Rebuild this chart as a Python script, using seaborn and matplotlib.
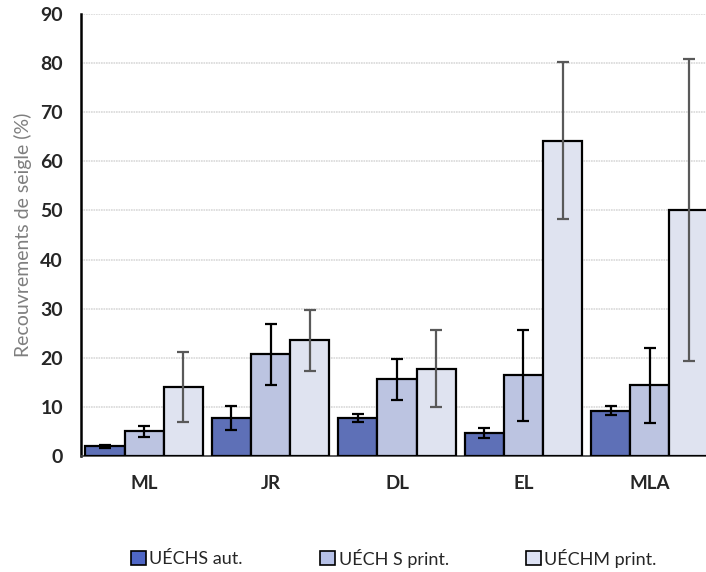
import matplotlib
matplotlib.use("Agg")
import matplotlib.pyplot as plt
from matplotlib.patches import Patch
import seaborn as sns
import pandas as pd

sites = ["ML", "JR", "DL", "EL", "MLA"]
series = ["UÉCHS aut.", "UÉCH S print.", "UÉCHM print."]
values_aut = [2.0, 7.7, 7.7, 4.6, 9.2]
values_s = [5.0, 20.7, 15.6, 16.4, 14.4]
values_m = [14.0, 23.6, 17.8, 64.2, 50.1]
err_aut = [0.3, 2.4, 0.8, 1.0, 0.9]
err_s = [1.2, 6.2, 4.2, 9.3, 7.6]
err_m = [7.1, 6.2, 7.9, 16.0, 30.7]
yticks = [0, 10, 20, 30, 40, 50, 60, 70, 80, 90]

colors = ["#4F67C6", "#B6C1E7", "#DCE1F3"]
err_colors = ["#000000", "#000000", "#595959"]

sns.set_theme(style="white")
plt.rcParams["font.family"] = ["Lato", "DejaVu Sans"]

df = pd.DataFrame({
    "site": sites * 3,
    "series": [series[0]] * 5 + [series[1]] * 5 + [series[2]] * 5,
    "value": values_aut + values_s + values_m,
})
errs = {series[0]: err_aut, series[1]: err_s, series[2]: err_m}
vals = {series[0]: values_aut, series[1]: values_s, series[2]: values_m}

fig = plt.figure(figsize=(7.06, 5.72), dpi=100)
ax = fig.add_axes([81 / 706, 1 - 456 / 572, 632 / 706, 442 / 572])

sns.barplot(data=df, x="site", y="value", hue="series", order=sites,
            hue_order=series, palette=colors, width=0.93, gap=0,
            errorbar=None, edgecolor="black", linewidth=1.6, ax=ax,
            legend=False, zorder=3)

# error bars at bar centres, taken from the drawn patches
for k, s in enumerate(series):
    cont = ax.containers[k]
    xs = [p.get_x() + p.get_width() / 2 for p in cont.patches]
    ax.errorbar(xs, vals[s], yerr=errs[s], fmt="none", ecolor=err_colors[k],
                elinewidth=1.6, capsize=4, capthick=1.6, zorder=4)

ax.set_ylim(0, 90)
ax.set_xlim(-0.5, 4.5)
ax.set_yticks(yticks)
ax.set_yticklabels([str(t) for t in yticks], fontsize=14, fontweight="bold")
ax.set_xticks(range(len(sites)))
ax.set_xticklabels(sites, fontsize=13.5, fontweight="bold")
ax.tick_params(axis="y", length=0, pad=13)
ax.tick_params(axis="x", length=0, pad=14)
ax.set_xlabel("")
ax.set_ylabel("Recouvrements de seigle (%)", fontsize=14, color="#7F7F7F", labelpad=6)
ax.yaxis.grid(True, color="#D9D9D9", linewidth=1.2, linestyle=(0, (1, 0.5)), zorder=0)
ax.set_axisbelow(True)
for side in ["top", "right"]:
    ax.spines[side].set_visible(False)
ax.spines["left"].set_color("black")
ax.spines["left"].set_linewidth(1.8)
ax.spines["bottom"].set_color("#404040")
ax.spines["bottom"].set_linewidth(1.2)

handles = [Patch(facecolor=c, edgecolor="black", linewidth=1.2) for c in colors]
fig.legend(handles, series, loc="center", bbox_to_anchor=(394 / 706, 1 - 558 / 572),
           ncol=3, frameon=False, fontsize=13, handlelength=0.8, handleheight=0.8,
           handletextpad=0.2, columnspacing=4.3)

fig.savefig("out.png", dpi=100)
